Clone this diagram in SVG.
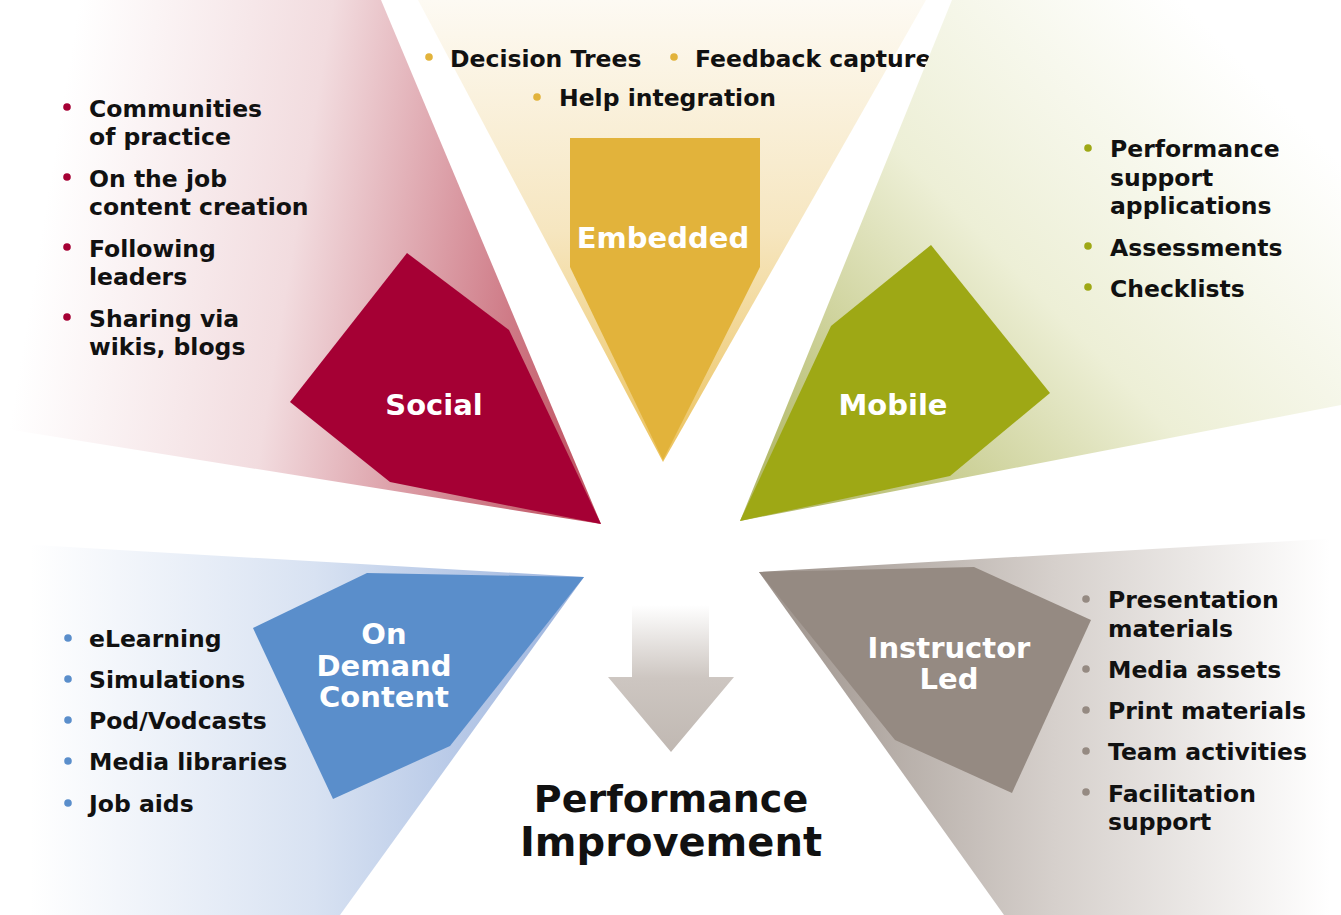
<svg xmlns="http://www.w3.org/2000/svg" width="1341" height="915" viewBox="0 0 1341 915">
  <defs>
    <linearGradient id="gSocial" gradientUnits="userSpaceOnUse" x1="40" y1="240" x2="590" y2="330">
      <stop offset="0" stop-color="#ffffff"/>
      <stop offset="0.45" stop-color="#f2dcdf"/>
      <stop offset="1" stop-color="#c25867"/>
    </linearGradient>
    <linearGradient id="gEmbedded" gradientUnits="userSpaceOnUse" x1="0" y1="0" x2="0" y2="460">
      <stop offset="0" stop-color="#fdfaf3"/>
      <stop offset="0.5" stop-color="#f6e6c0"/>
      <stop offset="1" stop-color="#ecc35e"/>
    </linearGradient>
    <linearGradient id="gMobile" gradientUnits="userSpaceOnUse" x1="1260" y1="80" x2="820" y2="510">
      <stop offset="0" stop-color="#ffffff"/>
      <stop offset="0.5" stop-color="#edefd6"/>
      <stop offset="1" stop-color="#b5bb6c"/>
    </linearGradient>
    <linearGradient id="gDemand" gradientUnits="userSpaceOnUse" x1="30" y1="0" x2="600" y2="0">
      <stop offset="0" stop-color="#ffffff"/>
      <stop offset="0.5" stop-color="#d8e2f2"/>
      <stop offset="1" stop-color="#97b0dc"/>
    </linearGradient>
    <linearGradient id="gInstructor" gradientUnits="userSpaceOnUse" x1="1330" y1="0" x2="780" y2="0">
      <stop offset="0" stop-color="#ffffff"/>
      <stop offset="0.5" stop-color="#d6d0cc"/>
      <stop offset="1" stop-color="#a0968f"/>
    </linearGradient>
    <linearGradient id="gArrow" gradientUnits="userSpaceOnUse" x1="0" y1="605" x2="0" y2="752">
      <stop offset="0" stop-color="#ffffff"/>
      <stop offset="0.5" stop-color="#cdc6c1"/>
      <stop offset="1" stop-color="#c0b8b2"/>
    </linearGradient>
  </defs>
  <style>
    .item { font-family: "DejaVu Sans", "Liberation Sans", sans-serif; font-weight: bold; font-size: 23.5px; fill: #111111; }
    .label { font-family: "DejaVu Sans", "Liberation Sans", sans-serif; font-weight: bold; font-size: 29px; fill: #ffffff; text-anchor: middle; }
    .title { font-family: "DejaVu Sans", "Liberation Sans", sans-serif; font-weight: bold; font-size: 38px; fill: #111111; text-anchor: middle; }
    .title-big { font-size: 40px; }
    .dot-social { fill: #a50034; }
    .dot-embedded { fill: #e2b33b; }
    .dot-mobile { fill: #9ea815; }
    .dot-demand { fill: #5a8ecb; }
    .dot-instructor { fill: #958a82; }
  </style>

  <rect width="1341" height="915" fill="#ffffff"/>

  <!-- Social -->
  <g id="social">
    <polygon points="0,0 381,0 601,524 0,428" fill="url(#gSocial)"/>
    <polygon points="290,402 407,253 509,330 601,524 390,482" fill="#a50034"/>
    <text class="label" x="434" y="415">Social</text>
    <g>
      <circle class="dot-social" cx="67" cy="107" r="3.8"/>
      <circle class="dot-social" cx="67" cy="177" r="3.8"/>
      <circle class="dot-social" cx="67" cy="247" r="3.8"/>
      <circle class="dot-social" cx="67" cy="317" r="3.8"/>
      <text class="item" x="89" y="117">Communities</text>
      <text class="item" x="89" y="145">of practice</text>
      <text class="item" x="89" y="187">On the job</text>
      <text class="item" x="89" y="215">content creation</text>
      <text class="item" x="89" y="257">Following</text>
      <text class="item" x="89" y="285">leaders</text>
      <text class="item" x="89" y="327">Sharing via</text>
      <text class="item" x="89" y="355">wikis, blogs</text>
    </g>
  </g>

  <!-- Embedded -->
  <g id="embedded">
    <polygon points="418,0 926,0 663,462" fill="url(#gEmbedded)"/>
    <polygon points="570,138 760,138 760,267 663,460 570,267" fill="#e2b33b"/>
    <text class="label" x="663" y="248">Embedded</text>
    <g>
      <circle class="dot-embedded" cx="429" cy="57" r="3.8"/>
      <circle class="dot-embedded" cx="674" cy="57" r="3.8"/>
      <circle class="dot-embedded" cx="537" cy="97" r="3.8"/>
      <text class="item" x="450" y="67">Decision Trees</text>
      <text class="item" x="695" y="67">Feedback capture</text>
      <text class="item" x="559" y="106">Help integration</text>
    </g>
  </g>

  <!-- Mobile -->
  <g id="mobile">
    <polygon points="952,0 1341,0 1341,405 740,521" fill="url(#gMobile)"/>
    <polygon points="740,521 831,326 931,245 1050,393 950,476" fill="#9ea815"/>
    <text class="label" x="893" y="415">Mobile</text>
    <g>
      <circle class="dot-mobile" cx="1088" cy="148" r="3.8"/>
      <circle class="dot-mobile" cx="1088" cy="246" r="3.8"/>
      <circle class="dot-mobile" cx="1088" cy="287" r="3.8"/>
      <text class="item" x="1110" y="157">Performance</text>
      <text class="item" x="1110" y="186">support</text>
      <text class="item" x="1110" y="214">applications</text>
      <text class="item" x="1110" y="256">Assessments</text>
      <text class="item" x="1110" y="297">Checklists</text>
    </g>
  </g>

  <!-- On Demand Content -->
  <g id="on-demand">
    <polygon points="0,543 584,577 340,915 0,915" fill="url(#gDemand)"/>
    <polygon points="253,628 367,573 584,577 450,746 333,799" fill="#5a8ecb"/>
    <text class="label" x="384" y="644">On</text>
    <text class="label" x="384" y="676">Demand</text>
    <text class="label" x="384" y="707">Content</text>
    <g>
      <circle class="dot-demand" cx="68" cy="638" r="3.8"/>
      <circle class="dot-demand" cx="68" cy="679" r="3.8"/>
      <circle class="dot-demand" cx="68" cy="720" r="3.8"/>
      <circle class="dot-demand" cx="68" cy="761" r="3.8"/>
      <circle class="dot-demand" cx="68" cy="803" r="3.8"/>
      <text class="item" x="89" y="647">eLearning</text>
      <text class="item" x="89" y="688">Simulations</text>
      <text class="item" x="89" y="729">Pod/Vodcasts</text>
      <text class="item" x="89" y="770">Media libraries</text>
      <text class="item" x="89" y="812">Job aids</text>
    </g>
  </g>

  <!-- Instructor Led -->
  <g id="instructor-led">
    <polygon points="759,572 1341,538 1341,915 1004,915" fill="url(#gInstructor)"/>
    <polygon points="759,572 974,567 1091,620 1012,793 895,740" fill="#958a82"/>
    <text class="label" x="949" y="658">Instructor</text>
    <text class="label" x="949" y="689">Led</text>
    <g>
      <circle class="dot-instructor" cx="1086" cy="599" r="3.8"/>
      <circle class="dot-instructor" cx="1086" cy="669" r="3.8"/>
      <circle class="dot-instructor" cx="1086" cy="710" r="3.8"/>
      <circle class="dot-instructor" cx="1086" cy="751" r="3.8"/>
      <circle class="dot-instructor" cx="1086" cy="792" r="3.8"/>
      <text class="item" x="1108" y="608">Presentation</text>
      <text class="item" x="1108" y="637">materials</text>
      <text class="item" x="1108" y="678">Media assets</text>
      <text class="item" x="1108" y="719">Print materials</text>
      <text class="item" x="1108" y="760">Team activities</text>
      <text class="item" x="1108" y="802">Facilitation</text>
      <text class="item" x="1108" y="830">support</text>
    </g>
  </g>

  <!-- Downward arrow feeding the outcome -->
  <g id="connectors">
    <polygon points="632,605 709,605 709,677 734,677 671,752 608,677 632,677" fill="url(#gArrow)"/>
  </g>

  <!-- Outcome -->
  <g id="performance-improvement">
    <text class="title" x="671" y="812">Performance</text>
    <text class="title title-big" x="671" y="856">Improvement</text>
  </g>
</svg>
